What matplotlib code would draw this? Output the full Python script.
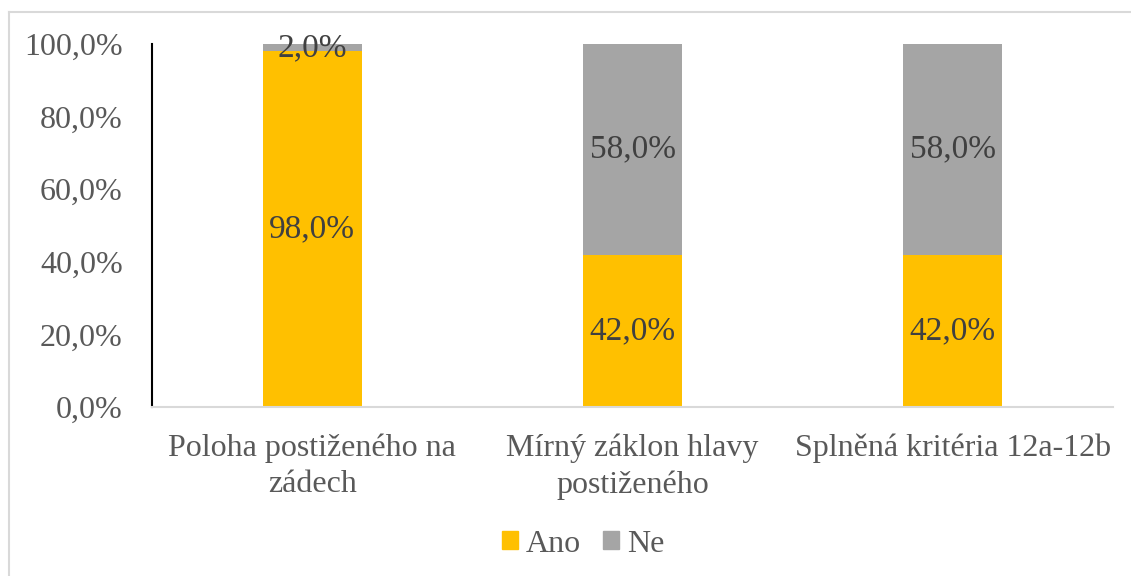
import matplotlib.pyplot as plt
from matplotlib.lines import Line2D
from matplotlib.patches import Patch
import numpy as np

categories = ["Poloha postiženého na\nzádech", "Mírný záklon hlavy\npostiženého", "Splněná kritéria 12a-12b"]
ano = [0.98, 0.42, 0.42]
ne = [0.02, 0.58, 0.58]
yticks = [0.0, 0.2, 0.4, 0.6, 0.8, 1.0]

plt.rcParams['font.family'] = ['Liberation Serif', 'DejaVu Serif']

W, H = 1131, 576
fig = plt.figure(figsize=(W / 100, H / 100), dpi=100)
ax = fig.add_axes([152 / W, 1 - 407 / H, (1113 - 152) / W, (407 - 44) / H])

x = np.arange(len(categories))
width = 0.31
c_ano = "#FFC000"
c_ne = "#A5A5A5"
ax.bar(x, ano, width, color=c_ano, label="Ano")
ax.bar(x, ne, width, bottom=ano, color=c_ne, label="Ne")

for i in range(len(categories)):
    ax.text(x[i], ano[i] / 2, f"{ano[i]*100:.1f}%".replace(".", ","),
            ha="center", va="center", fontsize=24, color="#404040")
    ax.text(x[i], ano[i] + ne[i] / 2, f"{ne[i]*100:.1f}%".replace(".", ","),
            ha="center", va="center", fontsize=24, color="#404040")

ax.set_xlim(-0.5, len(categories) - 0.5)
ax.set_ylim(0, 1)
ax.set_yticks(yticks)
ax.set_yticklabels([f"{v*100:.1f}%".replace(".", ",") for v in yticks])
ax.set_xticks(x)
ax.set_xticklabels(categories, linespacing=1.32)
ax.tick_params(axis="both", length=0, labelsize=23, labelcolor="#595959")
ax.tick_params(axis="y", pad=21)
ax.tick_params(axis="x", pad=19)

for s in ["top", "right"]:
    ax.spines[s].set_visible(False)
ax.spines["left"].set_color("black")
ax.spines["left"].set_linewidth(1.5)
ax.spines["bottom"].set_color("#D9D9D9")
ax.spines["bottom"].set_linewidth(1.5)

handles = [Patch(color=c_ano, label="Ano"), Patch(color=c_ne, label="Ne")]
leg = fig.legend(handles=handles, loc="center", bbox_to_anchor=(583 / W, 1 - 544 / H),
                 ncol=2, frameon=False, fontsize=23, handlelength=0.5, handleheight=0.5,
                 handletextpad=0.25, columnspacing=0.7)
for t in leg.get_texts():
    t.set_color("#595959")

# outer chart-area border (partly visible)
fig.add_artist(Line2D([9 / W, 9 / W], [0, 1 - 12 / H], color="#D9D9D9", lw=1.5))
fig.add_artist(Line2D([9 / W, 1], [1 - 12 / H, 1 - 12 / H], color="#D9D9D9", lw=1.5))

fig.savefig("out.png", dpi=100)
